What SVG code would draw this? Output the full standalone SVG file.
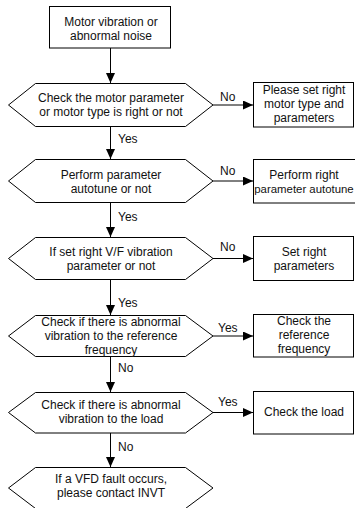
<svg xmlns="http://www.w3.org/2000/svg" width="355" height="508" viewBox="0 0 355 508">
<defs>
<marker id="ah" markerWidth="10" markerHeight="9" refX="10" refY="4.5" orient="auto" markerUnits="userSpaceOnUse">
<path d="M0,0 L10,4.5 L0,9 Z" fill="#000"/>
</marker>
<style>
.s{fill:#fff;stroke:#000;stroke-width:1}
.t{font-family:"Liberation Sans",Arial,sans-serif;font-size:12px;fill:#111;text-anchor:middle}
.l{font-family:"Liberation Sans",Arial,sans-serif;font-size:12px;fill:#111}
.c{fill:none;stroke:#000;stroke-width:1;marker-end:url(#ah)}
</style>
</defs>
<rect width="355" height="508" fill="#fff"/>
<g id="connectors">
<line class="c" x1="110.5" y1="48" x2="110.5" y2="83"/>
<line class="c" x1="110.5" y1="127" x2="110.5" y2="159"/>
<line class="c" x1="110.5" y1="203" x2="110.5" y2="237"/>
<line class="c" x1="110.5" y1="280" x2="110.5" y2="315"/>
<line class="c" x1="110.5" y1="357" x2="110.5" y2="392"/>
<line class="c" x1="110.5" y1="433" x2="110.5" y2="467"/>
<line class="c" x1="213" y1="105" x2="253" y2="105"/>
<line class="c" x1="213" y1="181" x2="253" y2="181"/>
<line class="c" x1="213" y1="258.5" x2="253" y2="258.5"/>
<line class="c" x1="213" y1="336" x2="253" y2="336"/>
<line class="c" x1="213" y1="412.5" x2="253" y2="412.5"/>
<text class="l" x="220" y="101">No</text>
<text class="l" x="118" y="143">Yes</text>
<text class="l" x="220" y="175">No</text>
<text class="l" x="118" y="221">Yes</text>
<text class="l" x="220" y="251">No</text>
<text class="l" x="118" y="307">Yes</text>
<text class="l" x="218" y="332">Yes</text>
<text class="l" x="118" y="372">No</text>
<text class="l" x="218" y="406">Yes</text>
<text class="l" x="118" y="451">No</text>
</g>
<g id="start">
<rect class="s" x="49.5" y="6.5" width="121" height="41.5"/>
<text class="t" x="111" y="26">Motor vibration or</text>
<text class="t" x="111" y="40">abnormal noise</text>
</g>
<g id="d1">
<polygon class="s" points="8.5,105 35.5,83.5 185.5,83.5 213,105 185.5,126.5 35.5,126.5"/>
<text class="t" x="111" y="102">Check the motor parameter</text>
<text class="t" x="111" y="116">or motor type is right or not</text>
</g>
<g id="b1">
<rect class="s" x="253.5" y="82.5" width="100" height="44.5"/>
<text class="t" x="304" y="94">Please set right</text>
<text class="t" x="304" y="108">motor type and</text>
<text class="t" x="304" y="122">parameters</text>
</g>
<g id="d2">
<polygon class="s" points="8.5,181 35.5,159.5 185.5,159.5 213,181 185.5,202.5 35.5,202.5"/>
<text class="t" x="111" y="179">Perform parameter</text>
<text class="t" x="111" y="193">autotune or not</text>
</g>
<g id="b2">
<rect class="s" x="253.5" y="159.5" width="104" height="43.5"/>
<text class="t" x="304" y="179">Perform right</text>
<text class="t" x="304" y="193" style="font-size:11.4px">parameter autotune</text>
</g>
<g id="d3">
<polygon class="s" points="8.5,258.5 35.5,237.5 185.5,237.5 213,258.5 185.5,279.5 35.5,279.5"/>
<text class="t" x="111" y="256">If set right V/F vibration</text>
<text class="t" x="111" y="270">parameter or not</text>
</g>
<g id="b3">
<rect class="s" x="253.5" y="236.5" width="100" height="44"/>
<text class="t" x="304" y="256">Set right</text>
<text class="t" x="304" y="270">parameters</text>
</g>
<g id="d4">
<polygon class="s" points="8.5,336 35.5,315.5 185.5,315.5 213,336 185.5,356.5 35.5,356.5"/>
<text class="t" x="111" y="326">Check if there is abnormal</text>
<text class="t" x="111" y="340">vibration to the reference</text>
<text class="t" x="111" y="354">frequency</text>
</g>
<g id="b4">
<rect class="s" x="253.5" y="314.5" width="100" height="42.5"/>
<text class="t" x="304" y="325">Check the</text>
<text class="t" x="304" y="339">reference</text>
<text class="t" x="304" y="353">frequency</text>
</g>
<g id="d5">
<polygon class="s" points="8.5,412.5 35.5,392.5 185.5,392.5 213,412.5 185.5,433 35.5,433"/>
<text class="t" x="111" y="409">Check if there is abnormal</text>
<text class="t" x="111" y="423">vibration to the load</text>
</g>
<g id="b5">
<rect class="s" x="253.5" y="391.5" width="100" height="42.5"/>
<text class="t" x="304" y="416">Check the load</text>
</g>
<g id="d6">
<polygon class="s" points="8.5,488 35.5,467.5 185.5,467.5 213,488 185.5,508.5 35.5,508.5"/>
<text class="t" x="111" y="483">If a VFD fault occurs,</text>
<text class="t" x="111" y="497">please contact INVT</text>
</g>
</svg>
